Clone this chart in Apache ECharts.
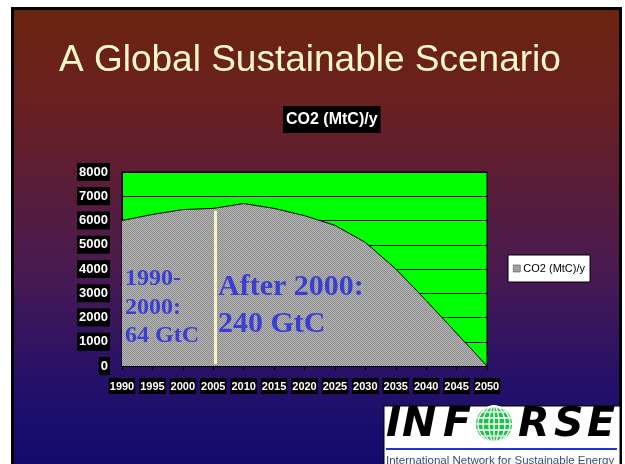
<!DOCTYPE html>
<html>
<head>
<meta charset="utf-8">
<script src="https://cdn.jsdelivr.net/npm/echarts@6/dist/echarts.min.js"></script>
<style>
  html, body { margin: 0; padding: 0; background: #fff; }
  #main { width: 625px; height: 464px; }
</style>
</head>
<body>
<div id="main"></div>
<script>
// values
var years = [1990, 1995, 2000, 2005, 2010, 2015, 2020, 2025, 2030, 2035, 2040, 2045, 2050];
var co2 = [6000, 6250, 6450, 6500, 6700, 6500, 6200, 5800, 5100, 4000, 2700, 1350, 0];
var seriesName = 'CO2 (MtC)/y';
var dividerYear = 2005.4;
var dividerRange = [80, 6400];

var sans = 'Liberation Sans, Arial, sans-serif';
var serif = 'Liberation Serif, Times New Roman, serif';

// little dotted grey fill like the old excel area
var pat = document.createElement('canvas');
pat.width = 2; pat.height = 2;
var pctx = pat.getContext('2d');
pctx.fillStyle = '#b8b8b8';
pctx.fillRect(0, 0, 2, 2);
pctx.fillStyle = '#8a8a8a';
pctx.fillRect(0, 0, 1, 1);
pctx.fillRect(1, 1, 1, 1);

var dom = document.getElementById('main');
var myChart = echarts.init(dom, null, { renderer: 'canvas' });

var points = years.map(function (y, i) { return [y, co2[i]]; });

// INFORSE logo bits
var logo = [
  { type: 'rect', shape: { x: 384, y: 406, width: 236, height: 60 }, style: { fill: '#fff', stroke: '#000', lineWidth: 1 } }
];
[['I', 386], ['N', 402], ['F', 443], ['R', 518], ['S', 554], ['E', 587]].forEach(function (l) {
  logo.push({
    type: 'text',
    style: { x: l[1], y: 405, text: l[0], fill: '#000', font: 'italic bold 41px DejaVu Sans' }
  });
});
var gx = 494, gy = 424, gr = 18;
logo.push({
  type: 'circle', shape: { cx: gx, cy: gy, r: gr },
  style: { fill: '#1fbf4a' }
});
[-12, -6, 0, 6, 12].forEach(function (d) {
  var half = Math.sqrt(gr * gr - d * d);
  logo.push({
    type: 'line', shape: { x1: gx - half, y1: gy + d, x2: gx + half, y2: gy + d },
    style: { stroke: '#fff', lineWidth: 1.3 }
  });
});
[5, 11, 16].forEach(function (rx) {
  logo.push({
    type: 'ellipse', shape: { cx: gx, cy: gy, rx: rx, ry: gr },
    style: { fill: null, stroke: '#fff', lineWidth: 1.3 }
  });
});
logo.push({
  type: 'line', shape: { x1: gx, y1: gy - gr, x2: gx, y2: gy + gr },
  style: { stroke: '#fff', lineWidth: 1.3 }
});
logo.push({ type: 'rect', shape: { x: 386, y: 448, width: 231, height: 2 }, style: { fill: '#1f35d8' } });
logo.push({
  type: 'text',
  style: { x: 386, y: 455, text: 'International Network for Sustainable Energy', fill: '#3a4a7a', font: '11.5px ' + sans }
});

var option = {
  animation: false,
  backgroundColor: '#fff',
  title: [
    {
      text: 'A Global Sustainable Scenario',
      left: 54, top: 37,
      textStyle: { color: '#fff8c8', fontSize: 37, fontWeight: 'normal', fontFamily: sans }
    },
    {
      text: seriesName,
      left: 283, top: 106,
      backgroundColor: '#000',
      padding: [6, 3, 5, 3],
      textStyle: { color: '#fff', fontSize: 16, fontWeight: 'bold', fontFamily: sans }
    }
  ],
  legend: {
    left: 508, top: 255,
    orient: 'vertical',
    backgroundColor: '#fff',
    borderColor: '#000',
    borderWidth: 1,
    padding: [8, 5],
    itemWidth: 7, itemHeight: 7, itemGap: 4,
    textStyle: { color: '#000', fontSize: 11, fontFamily: sans, padding: [0, 0, 0, -2] },
    data: [{ name: seriesName, icon: 'rect', itemStyle: { color: '#a0a0a0', borderColor: '#555', borderWidth: 0.6 } }]
  },
  grid: {
    left: 122, top: 172, width: 365, height: 194,
    show: true,
    backgroundColor: '#00ff00',
    borderColor: '#000',
    borderWidth: 1
  },
  xAxis: {
    type: 'value',
    min: 1990, max: 2050, interval: 5,
    axisLine: { show: true, lineStyle: { color: '#000', width: 1 } },
    axisTick: { show: true, length: 4, lineStyle: { color: '#000' } },
    splitLine: { show: false },
    axisLabel: {
      formatter: function (v) { return String(v); },
      color: '#fff', fontSize: 11, fontWeight: 'bold', fontFamily: sans,
      backgroundColor: '#000', padding: [3, 1, 2, 1], margin: 12
    }
  },
  yAxis: {
    type: 'value',
    min: 0, max: 8000, interval: 1000,
    axisLine: { show: true, lineStyle: { color: '#000', width: 1 } },
    axisTick: { show: false },
    splitLine: { show: true, lineStyle: { color: '#000', width: 1 } },
    axisLabel: {
      formatter: function (v) { return String(v); },
      color: '#fff', fontSize: 13, fontWeight: 'bold', fontFamily: sans,
      backgroundColor: '#000', padding: [3, 2, 2, 2], margin: 12
    }
  },
  series: [
    {
      name: seriesName,
      type: 'line',
      data: points,
      showSymbol: false,
      symbol: 'none',
      lineStyle: { color: '#000', width: 1 },
      itemStyle: { color: '#a0a0a0' },
      areaStyle: { color: { image: pat, repeat: 'repeat' }, opacity: 1 },
      markLine: {
        silent: true,
        symbol: 'none',
        label: { show: false },
        lineStyle: { color: '#f6f2c6', width: 3, type: 'solid' },
        data: [[
          { coord: [dividerYear, dividerRange[0]] },
          { coord: [dividerYear, dividerRange[1]] }
        ]]
      }
    }
  ],
  graphic: [
    {
      type: 'rect', z: -10, silent: true,
      shape: { x: 12.5, y: 8.5, width: 608, height: 470 },
      style: {
        fill: new echarts.graphic.LinearGradient(0, 0, 0, 1, [
          { offset: 0, color: '#6b2410' },
          { offset: 0.2, color: '#6a2020' },
          { offset: 0.55, color: '#4a1a50' },
          { offset: 0.8, color: '#24106a' },
          { offset: 1, color: '#0e0a6e' }
        ]),
        stroke: '#000', lineWidth: 3
      }
    },
    {
      type: 'text', z: 100, left: 125, top: 265,
      style: {
        text: '1990-\n2000:\n64 GtC',
        fill: '#3a3ed2', font: 'bold 24px ' + serif, lineHeight: 28.5
      }
    },
    {
      type: 'text', z: 100, left: 218, top: 269,
      style: {
        text: 'After 2000:\n240 GtC',
        fill: '#3a3ed2', font: 'bold 30px ' + serif, lineHeight: 37
      }
    },
    { type: 'group', z: 100, children: logo }
  ]
};

myChart.setOption(option);
window.addEventListener('resize', myChart.resize);
</script>
</body>
</html>
